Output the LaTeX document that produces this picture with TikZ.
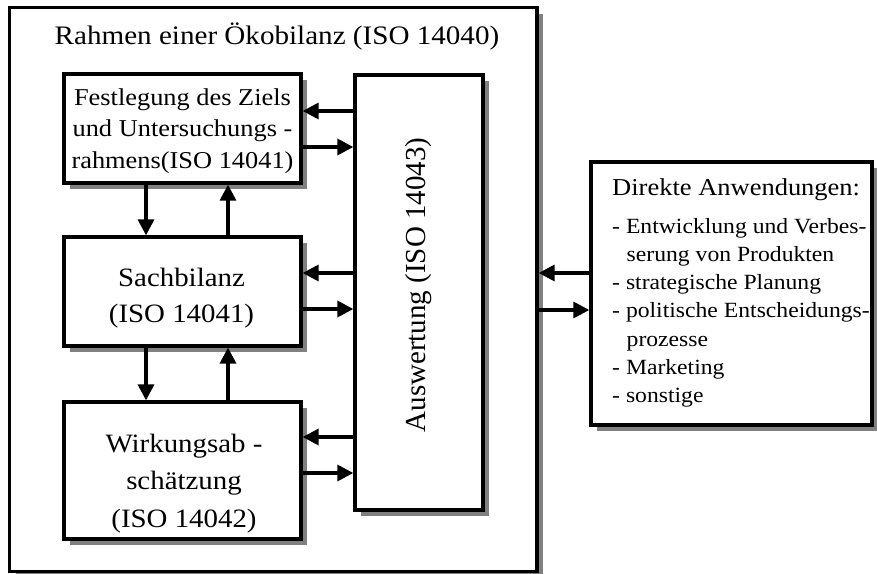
\documentclass[tikz,border=0pt]{standalone}
\usepackage{fontspec}
\setmainfont{Liberation Serif}[FakeStretch=1.09]
\newfontfamily\uprightserif{Liberation Serif}
\usetikzlibrary{arrows.meta,shadows}
\definecolor{shadowgray}{HTML}{808080}
\tikzset{
  box/.style={draw, line width=3.3pt, fill=white, rectangle, inner sep=0pt,
    drop shadow={shadow xshift=6pt, shadow yshift=-6pt, fill=shadowgray, opacity=1}},
  arr/.style={line width=3.3pt, -{Triangle[length=16pt,width=16pt]}},
  txt/.style={inner sep=0pt, anchor=base},
}
\begin{document}
\begin{tikzpicture}[x=1pt,y=-1pt]
\useasboundingbox (0,0) rectangle (877,573);

% outer frame of the LCA
\node[box, minimum width=527.5pt, minimum height=564pt] (frame) at (273.25,289.5) {};
\node[txt] (title) at (277,44) {\fontsize{26.7}{32}\selectfont Rahmen einer Ökobilanz (ISO 14040)};

% phase boxes
\node[box, minimum width=237pt, minimum height=109pt] (ziel) at (182.5,128.5) {};
\node[box, minimum width=237pt, minimum height=109pt] (sach) at (182.5,291.5) {};
\node[box, minimum width=237pt, minimum height=137pt] (wirk) at (182.5,470.5) {};
\node[box, minimum width=128pt, minimum height=435pt] (ausw) at (419,292.5) {};
\node[box, minimum width=281pt, minimum height=263pt] (anw) at (731.5,293.5) {};

% box texts
\node[txt] (ziel-t) at (182.5,105) {\fontsize{24.2}{31.5}\selectfont
  \begin{tabular}[t]{@{}c@{}}Festlegung des Ziels\\und Untersuchungs -\\rahmens(ISO 14041)\end{tabular}};
\node[txt] (sach-t) at (181.5,286) {\fontsize{26.5}{36}\selectfont
  \begin{tabular}[t]{@{}c@{}}Sachbilanz\\(ISO 14041)\end{tabular}};
\node[txt] (wirk-t) at (184,452) {\fontsize{26.5}{37.5}\selectfont
  \begin{tabular}[t]{@{}c@{}}Wirkungsab -\\schätzung\\(ISO 14042)\end{tabular}};
\node[rotate=90, inner sep=0pt] (ausw-t) at (419,285)
  {\uprightserif\fontsize{29}{34}\selectfont Auswertung (ISO 14043)};
\node[txt, anchor=base west] (anw-t) at (612,195) {\fontsize{21.7}{28.3}\selectfont
  \begin{tabular}[t]{@{}l@{}}
  {\fontsize{24.3}{28.3}\selectfont Direkte Anwendungen:}\\[9.7pt]
  - Entwicklung und Verbes-\\
  \hspace*{14.5pt}serung von Produkten\\
  - strategische Planung\\
  - politische Entscheidungs-\\
  \hspace*{14.5pt}prozesse\\
  - Marketing\\
  - sonstige
  \end{tabular}};

% exchanges with the interpretation phase
\draw[arr] (ausw.west |- 0,111) -- (ziel.east |- 0,111);
\draw[arr] (ziel.east |- 0,147) -- (ausw.west |- 0,147);
\draw[arr] (ausw.west |- 0,273) -- (sach.east |- 0,273);
\draw[arr] (sach.east |- 0,309) -- (ausw.west |- 0,309);
\draw[arr] (ausw.west |- 0,437) -- (wirk.east |- 0,437);
\draw[arr] (wirk.east |- 0,473) -- (ausw.west |- 0,473);

% flow between the phases
\draw[arr] (ziel.south -| 146,0) -- (sach.north -| 146,0);
\draw[arr] (sach.north -| 228,0) -- (ziel.south -| 228,0);
\draw[arr] (sach.south -| 146,0) -- (wirk.north -| 146,0);
\draw[arr] (wirk.north -| 228,0) -- (sach.south -| 228,0);

% link to the applications
\draw[arr] (anw.west |- 0,273) -- (frame.east |- 0,273);
\draw[arr] (frame.east |- 0,310) -- (anw.west |- 0,310);
\end{tikzpicture}
\end{document}
